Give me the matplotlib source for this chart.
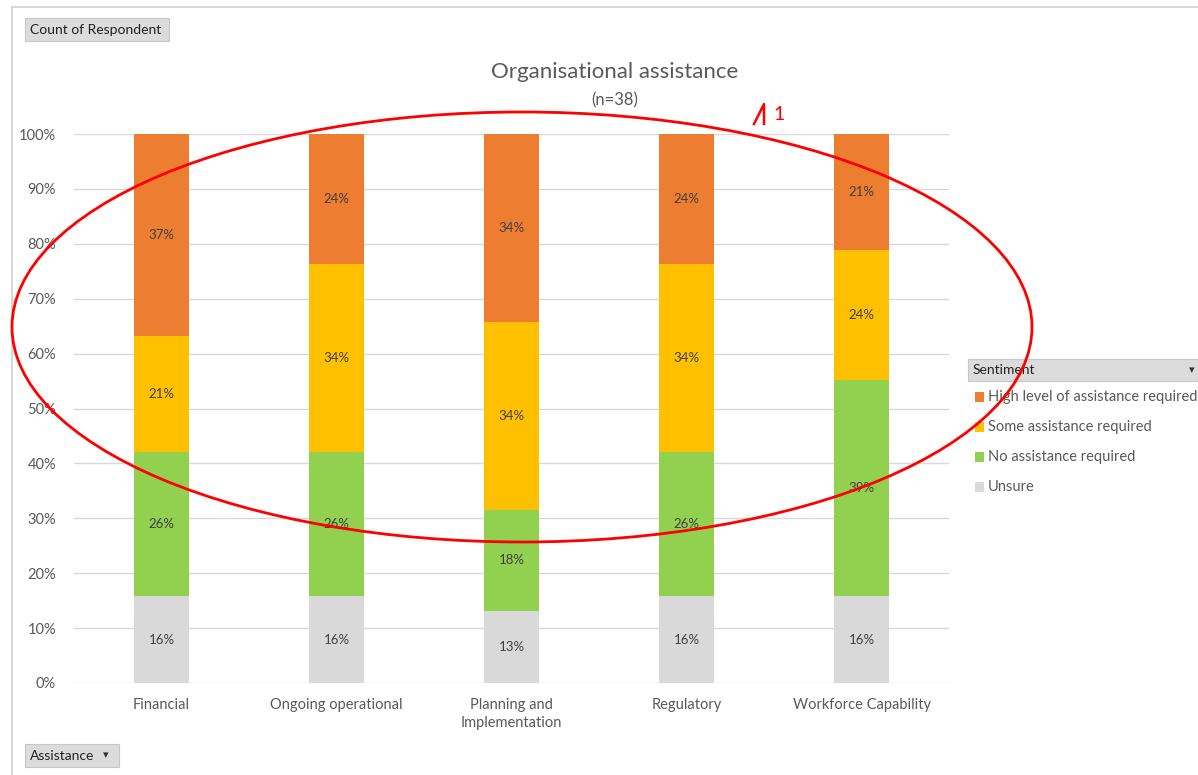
import matplotlib.pyplot as plt
import numpy as np
from matplotlib.patches import Ellipse, Rectangle
from matplotlib.lines import Line2D

categories = ["Financial", "Ongoing operational", "Planning and\nImplementation",
              "Regulatory", "Workforce Capability"]
series_names = ["Unsure", "No assistance required", "Some assistance required",
                "High level of assistance required"]
unsure = [6, 6, 5, 6, 6]
no_assist = [10, 10, 7, 10, 15]
some_assist = [8, 13, 13, 13, 9]
high_assist = [14, 9, 13, 9, 8]
y_ticks = [0, 10, 20, 30, 40, 50, 60, 70, 80, 90, 100]

COLORS = ["#D9D9D9", "#92D050", "#FFC000", "#ED7D31"]
TEXT = "#595959"
FONT = ["Lato", "DejaVu Sans"]
plt.rcParams["font.family"] = FONT

W, H = 1198, 775
fig = plt.figure(figsize=(W / 100, H / 100), dpi=100)


def fx(px):
    return px / W


def fy(py):
    return 1 - py / H


ax = fig.add_axes([fx(74), fy(683), fx(949) - fx(74), fy(134) - fy(683)])

counts = np.array([unsure, no_assist, some_assist, high_assist], dtype=float)
pct = counts / counts.sum(axis=0) * 100
x = np.arange(len(categories))
bottom = np.zeros(len(categories))
for vals, color, name in zip(pct, COLORS, series_names):
    ax.bar(x, vals, bottom=bottom, width=0.314, color=color, label=name, zorder=2)
    for xi, b, v in zip(x, bottom, vals):
        ax.text(xi, b + v / 2, f"{v:.0f}%", ha="center", va="center",
                fontsize=9.5, color="#404040", zorder=3)
    bottom += vals

ax.set_xlim(-0.5, len(categories) - 0.5)
ax.set_ylim(0, 100)
ax.set_yticks(y_ticks)
ax.set_yticklabels([f"{t}%" for t in y_ticks])
ax.set_xticks(x)
ax.set_xticklabels(categories, linespacing=1.35)
ax.tick_params(length=0, colors=TEXT, labelsize=10.5)
ax.tick_params(axis="y", pad=13)
ax.tick_params(axis="x", pad=11)
ax.grid(axis="y", color="#D9D9D9", linewidth=1, zorder=0)
for s in ax.spines.values():
    s.set_visible(False)

# titles
fig.text(fx(615), fy(72), "Organisational assistance", ha="center", va="center",
         fontsize=16, color=TEXT)
fig.text(fx(615), fy(100), "(n=38)", ha="center", va="center", fontsize=12, color=TEXT)

# pivot-chart frame
fig.add_artist(Line2D([fx(12), fx(12)], [fy(7), 0], color="#D0D0D0", lw=1.2))
fig.add_artist(Line2D([fx(12), 1], [fy(7), fy(7)], color="#D0D0D0", lw=1.2))


def button(x0, y0, x1, y1, label, arrow=False, arrow_x=None):
    fig.add_artist(Rectangle((fx(x0), fy(y1)), fx(x1) - fx(x0), fy(y0) - fy(y1),
                             facecolor="#DCDCDC", edgecolor="#C8C8C8", lw=0.8,
                             transform=fig.transFigure))
    fig.text(fx(x0 + 5), fy((y0 + y1) / 2), label, ha="left", va="center",
             fontsize=10, color="#222222")
    if arrow:
        fig.text(fx(arrow_x), fy((y0 + y1) / 2), "▾", ha="center", va="center",
                 fontsize=8, color="#333333", family="DejaVu Sans")


button(25, 18, 169, 41, "Count of Respondent")
button(25, 744, 119, 767, "Assistance", arrow=True, arrow_x=106)
button(968, 359, 1198, 381, "Sentiment", arrow=True, arrow_x=1192)

# legend
legend_y = [397, 427, 457, 487]
for yy, name, color in zip(legend_y, series_names[::-1], COLORS[::-1]):
    fig.add_artist(Rectangle((fx(975), fy(yy + 5)), fx(9), fy(0) - fy(10),
                             facecolor=color, edgecolor="none",
                             transform=fig.transFigure))
    fig.text(fx(988), fy(yy), name, ha="left", va="center", fontsize=10.5, color=TEXT)

# red annotation
fig.add_artist(Ellipse((fx(522), fy(327)), fx(1020), 430 / H, fill=False,
                       edgecolor="#FF0000", lw=2, transform=fig.transFigure, zorder=10))
fig.add_artist(Line2D([fx(754), fx(764), fx(764)], [fy(124), fy(104), fy(124)],
                      color="#FF0000", lw=1.8))
fig.text(fx(773), fy(114), "1", ha="left", va="center", fontsize=14, color="#FF0000")

fig.savefig("out.png", dpi=100)
